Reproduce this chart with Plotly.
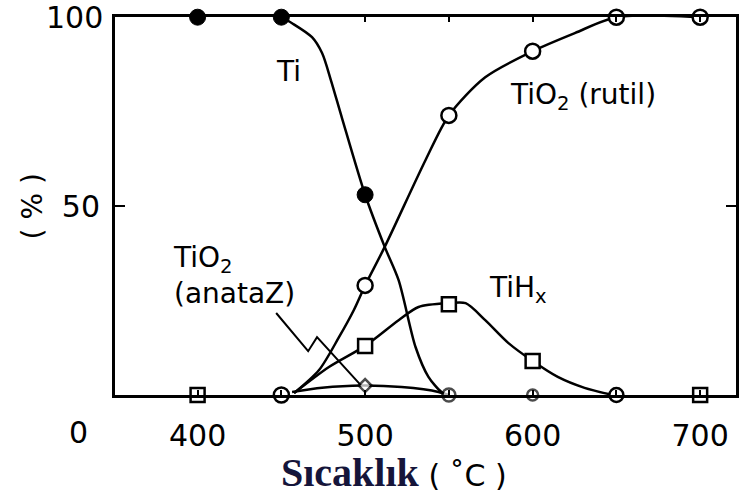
import plotly.graph_objects as go

# ---- measured points (markers) ----
ti_x = [400, 450, 500]
ti_y = [100, 100, 53]
rut_x = [450, 500, 550, 600, 650, 700]
rut_y = [0, 29, 74, 91, 100, 100]
hx_x = [400, 500, 550, 600, 650, 700]
hx_y = [0, 13, 24, 9, 0, 0]
an_x = [500, 550, 600]
an_y = [2.5, 0, 0]

# ---- drawn curves ----
ti_cx = [450, 456.4, 468.3, 474.3, 479.6, 486.2, 500, 511.7, 520, 530.1, 537.8, 545.6, 550]
ti_cy = [100, 98.4, 94.7, 90.5, 83.3, 73.3, 53, 39.2, 30.4, 12.7, 4.8, 0.8, 0]
rut_cx = [457.6, 472.5, 484.4, 493.3, 500, 511.7, 536.1, 550, 571.7, 600, 625.2, 650, 700]
rut_cy = [0.5, 6.6, 15.3, 22.5, 29, 39.2, 62.2, 74, 84.1, 91, 95.8, 100, 100]
hx_cx = [457.6, 478.4, 500, 520, 531.9, 550, 560, 571.7, 585.4, 600, 615, 631, 648]
hx_cy = [0.5, 7.4, 13, 19.8, 23.3, 24.3, 24.3, 19.8, 13.8, 9, 4.8, 1.9, 0]
an_cx = [456.4, 474.3, 498, 521.8, 543.8, 549]
an_cy = [0.8, 1.9, 2.5, 2.1, 0.8, 0]
ptr_x = [446.9, 466, 471.3, 497.4]
ptr_y = [21.7, 11.6, 15.3, 2.6]

x_ticks = [400, 450, 500, 550, 600, 650, 700]
x_ticktext = ["400", "", "500", "", "600", "", "700"]
y_ticks = [0, 50, 100]
y_ticktext = ["", "50", ""]

FONT = "DejaVu Sans"
LW = 2.5

fig = go.Figure()

def curve(x, y, shape="spline", w=LW):
    fig.add_trace(go.Scatter(x=x, y=y, mode="lines", line=dict(color="black", width=w, shape=shape, smoothing=0.8),
                             hoverinfo="skip", showlegend=False, cliponaxis=False))

curve(ti_cx, ti_cy)
curve(rut_cx, rut_cy)
curve(hx_cx, hx_cy)
curve(an_cx, an_cy)
curve(ptr_x, ptr_y, shape="linear", w=2)

ml = dict(color="black", width=2.5)
fig.add_trace(go.Scatter(x=hx_x, y=hx_y, mode="markers", cliponaxis=False, showlegend=False,
                         marker=dict(symbol=["square", "square", "square", "square", "circle", "square"],
                                     size=14, color="white", line=ml)))
fig.add_trace(go.Scatter(x=rut_x, y=rut_y, mode="markers", cliponaxis=False, showlegend=False,
                         marker=dict(symbol="circle", size=15, color="white", line=ml)))
fig.add_trace(go.Scatter(x=an_x, y=an_y, mode="markers", cliponaxis=False, showlegend=False,
                         marker=dict(symbol=["diamond", "circle", "circle"], size=[10, 13, 11], color="white", line=ml)))
fig.add_trace(go.Scatter(x=ti_x, y=ti_y, mode="markers", cliponaxis=False, showlegend=False,
                         marker=dict(symbol="circle", size=16, color="black", line=dict(color="black", width=1))))

tfont = dict(family=FONT, size=28, color="black")
fig.add_annotation(x=454, y=85.5, text="Ti", showarrow=False, font=tfont)
fig.add_annotation(x=630, y=79, text="TiO<sub>2</sub> (rutil)", showarrow=False, font=tfont)
fig.add_annotation(x=591, y=28, text="TiH<sub>x</sub>", showarrow=False, font=tfont)
fig.add_annotation(x=384, y=31.5, text="TiO<sub>2</sub><br>(anataZ)", showarrow=False, font=tfont,
                   xanchor="left", yanchor="middle", align="left")

fig.add_annotation(xref="paper", yref="y", x=-0.016, y=100, text="100", showarrow=False,
                   font=dict(family=FONT, size=30, color="black"), xanchor="right", yanchor="middle")
fig.add_annotation(xref="paper", yref="paper", x=-0.04, y=-0.1, text="0", showarrow=False,
                   font=dict(family=FONT, size=30, color="black"), xanchor="right", yanchor="middle")
fig.add_annotation(xref="paper", yref="paper", x=-0.133, y=0.5, text="( % )", textangle=-90, showarrow=False,
                   xanchor="center", yanchor="middle",
                   font=dict(family=FONT, size=28, color="black"))
fig.add_annotation(xref="paper", yref="paper", x=0.45, y=-0.205,
                   text="<b><span style='font-family:Liberation Serif;font-size:40px;color:#15153a'>Sıcaklık</span></b>"
                        "<span style='font-family:DejaVu Sans;font-size:30px'> ( ˚C )</span>",
                   showarrow=False, xanchor="center", yanchor="middle", font=dict(family=FONT, size=30, color="black"))

fig.update_xaxes(range=[350.7, 721.4], tickvals=x_ticks, ticktext=x_ticktext, ticks="inside", ticklen=5,
                 tickwidth=2, tickcolor="black", showline=True, linewidth=3, linecolor="black", mirror="ticks",
                 showgrid=False, zeroline=False, tickfont=dict(family=FONT, size=30, color="black"),
                 ticklabelstandoff=12)
fig.update_yaxes(range=[0, 100.05], tickvals=y_ticks, ticktext=y_ticktext, ticks="inside", ticklen=10,
                 tickwidth=2, tickcolor="black", showline=True, linewidth=3, linecolor="black", mirror="ticks",
                 showgrid=False, zeroline=False, tickfont=dict(family=FONT, size=30, color="black"),
                 ticklabelstandoff=6)
fig.update_layout(width=743, height=493, margin=dict(l=115, r=4, t=17, b=98),
                  paper_bgcolor="white", plot_bgcolor="white")
fig.write_html("out.html")
